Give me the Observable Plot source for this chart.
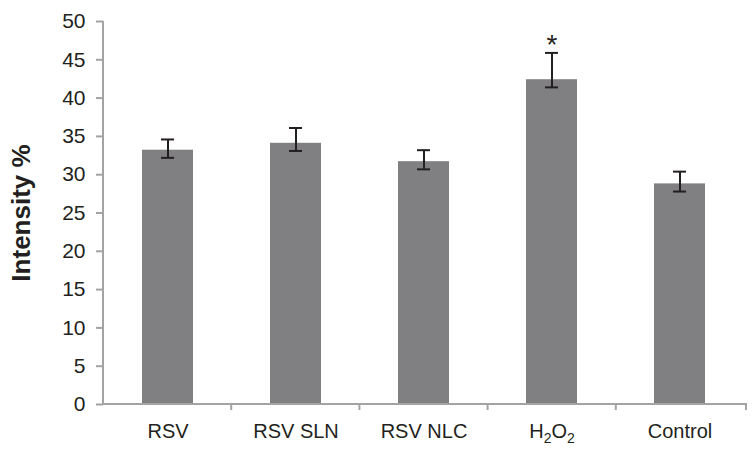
<!DOCTYPE html>
<html>
<head>
<meta charset="utf-8">
<script src="https://cdn.jsdelivr.net/npm/d3@7"></script>
<script src="https://cdn.jsdelivr.net/npm/@observablehq/plot@0.6"></script>
<style>
  html, body { margin: 0; padding: 0; background: #ffffff; }
  #chart { width: 756px; height: 454px; }
</style>
</head>
<body>
<div id="chart"></div>
<script>
const categories = ["RSV", "RSV SLN", "RSV NLC", "H\u2082O\u2082", "Control"];
const means = [33.2, 34.1, 31.7, 42.4, 28.8];
const errLow = [32.2, 33.1, 30.7, 41.4, 27.8];
const errHigh = [34.6, 36.1, 33.2, 45.9, 30.4];
const markers = ["", "", "", "*", ""];
const yTicks = [0, 5, 10, 15, 20, 25, 30, 35, 40, 45, 50];
const yLabel = "Intensity %";

const data = categories.map((c, i) => ({
  cat: c, mean: means[i], lo: errLow[i], hi: errHigh[i], mark: markers[i]
}));

const axisGrey = "#a3a3a3";
const ink = "#231f20";

function axisLines(...args) {
  const dims = args.find(a => a && typeof a === "object" && a.marginLeft !== undefined);
  const scales = args.find(a => a && typeof a === "object" && typeof a.y === "function");
  const g = d3.create("svg:g");
  const left = dims.marginLeft;
  const right = dims.width - dims.marginRight;
  const y0 = scales.y(0);
  const yTop = scales.y(d3.max(yTicks));
  const n = categories.length;
  const step = (right - left) / n;
  g.append("line")
    .attr("x1", left).attr("x2", left)
    .attr("y1", yTop).attr("y2", y0 + 1)
    .attr("stroke", axisGrey).attr("stroke-width", 2);
  g.append("line")
    .attr("x1", left).attr("x2", right + 3)
    .attr("y1", y0).attr("y2", y0)
    .attr("stroke", axisGrey).attr("stroke-width", 2);
  for (let i = 1; i <= n; i++) {
    const x = left + i * step + (i === n ? 2 : 0);
    g.append("line")
      .attr("x1", x).attr("x2", x)
      .attr("y1", y0).attr("y2", y0 + 6)
      .attr("stroke", axisGrey).attr("stroke-width", 2);
  }
  return g.node();
}

const chart = Plot.plot({
  width: 756,
  height: 454,
  marginLeft: 103,
  marginRight: 12,
  marginTop: 21,
  marginBottom: 50,
  style: { fontFamily: "'Liberation Sans', Arial, sans-serif", color: ink, background: "#ffffff" },
  x: { domain: categories, paddingInner: 0.6, paddingOuter: 0.3, axis: null },
  y: { domain: [0, 50], axis: null },
  marks: [
    Plot.barY(data, { x: "cat", y: "mean", fill: "#808083" }),
    Plot.ruleX(data, { x: "cat", y1: "lo", y2: "hi", stroke: ink, strokeWidth: 2 }),
    Plot.tickY(data, { x: "cat", y: "lo", stroke: ink, strokeWidth: 2, insetLeft: 19, insetRight: 19 }),
    Plot.tickY(data, { x: "cat", y: "hi", stroke: ink, strokeWidth: 2, insetLeft: 19, insetRight: 19 }),
    Plot.text(data, { x: "cat", y: "hi", text: "mark", dy: -8, fontSize: 28, fill: ink }),
    axisLines,
    Plot.axisY({ ticks: yTicks, tickSize: 7, tickPadding: 11, stroke: axisGrey, strokeWidth: 2, fill: ink, fontSize: 21, label: null }),
    Plot.axisX({ tickSize: 0, tickPadding: 19, fontSize: 20, fill: ink, label: null }),
    Plot.text([yLabel], { frameAnchor: "left", textAnchor: "middle", rotate: -90, dx: -82, fontSize: 26, fontWeight: "bold", fill: ink })
  ]
});

// render the chemical formula with true subscripts
d3.select(chart).selectAll("text").each(function () {
  const t = d3.select(this);
  if (t.text() === "H\u2082O\u2082") {
    t.text("");
    t.append("tspan").text("H");
    t.append("tspan").attr("font-size", "70%").attr("dy", "5").text("2");
    t.append("tspan").attr("dy", "-5").text("O");
    t.append("tspan").attr("font-size", "70%").attr("dy", "5").text("2");
  }
});

document.getElementById("chart").appendChild(chart);
</script>
</body>
</html>
